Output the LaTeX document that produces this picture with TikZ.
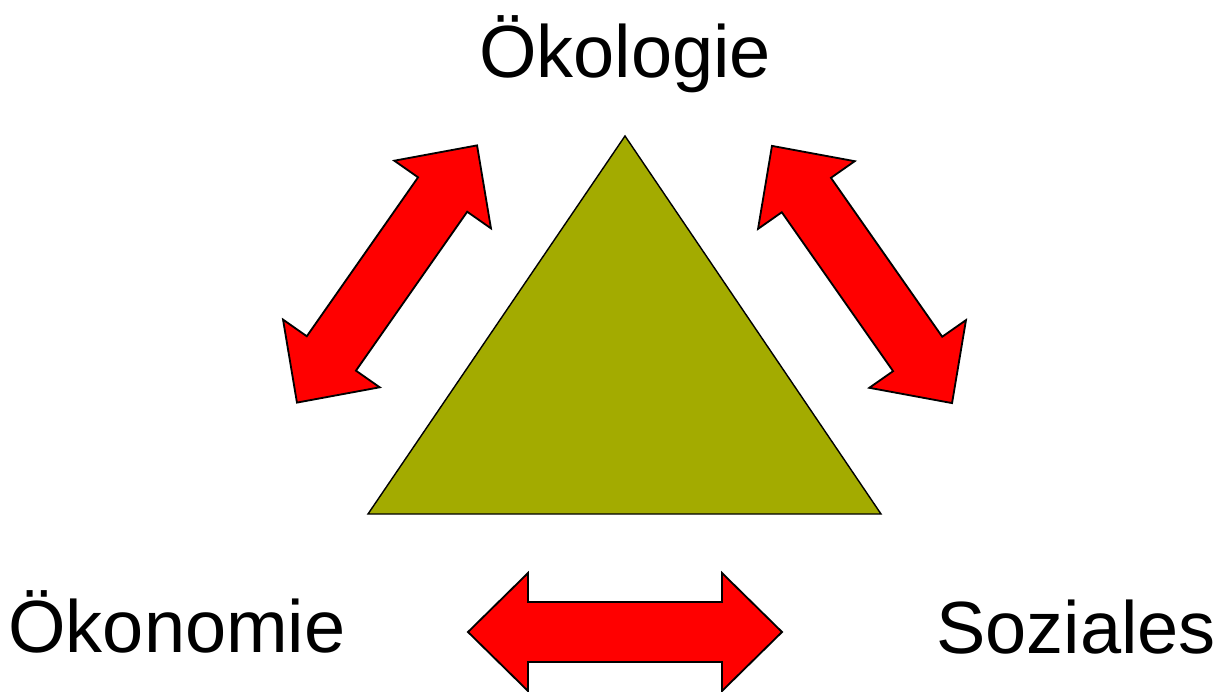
\documentclass[tikz,border=0pt]{standalone}
\usepackage{fontspec}
\setmainfont{Liberation Sans}
\usepackage{xcolor}
\definecolor{cOlive}{HTML}{A3AB00}
\definecolor{cRed}{HTML}{FF0000}
\usepackage{tikz}
\usetikzlibrary{positioning}

\begin{document}
\begin{tikzpicture}[
  x=0.025cm,y=0.025cm,
  font=\fontsize{52.6}{60}\selectfont,
  lbl/.style={anchor=base,inner sep=0pt},
  trifill/.style={draw=black,fill=cOlive,line width=1pt,line join=miter},
  arrowfill/.style={draw=black,fill=cRed,line width=1.3pt,line join=miter},
  dblarrow/.pic={
    \draw[arrowfill] (-157,0) -- (-97,59) -- (-97,30) -- (97,30) -- (97,59)
      -- (157,0) -- (97,-59) -- (97,-30) -- (-97,-30) -- (-97,-59) -- cycle;}]
\useasboundingbox (0,0) rectangle (1220,691);
% labels
\node[lbl] (oeko) at (625,613) {Ökologie};
\node[lbl] (oekon) at (177,39) {Ökonomie};
\node[lbl] (sozial) at (1076,38) {Soziales};
% triangle
\coordinate (apex) at (625,555);
\coordinate (bl) at (368,177);
\coordinate (br) at (881,177);
\draw[trifill] (apex) -- (br) -- (bl) -- cycle;
% arrows
\pic[rotate=55] (left) at (387,417) {dblarrow};
\pic[rotate=-55] (right) at (862,416.5) {dblarrow};
\pic (bottom) at (625,59) {dblarrow};
\end{tikzpicture}
\end{document}
